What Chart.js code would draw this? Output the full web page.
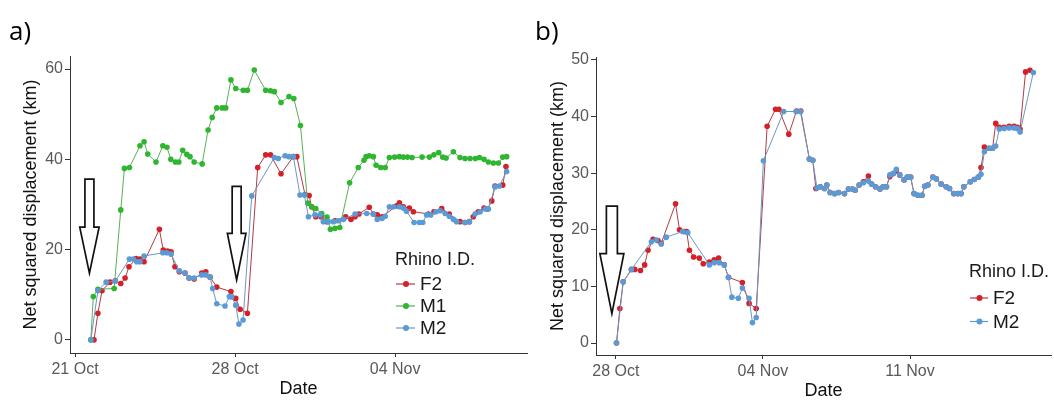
<!DOCTYPE html>
<html>
<head>
<title>Rhino net squared displacement</title>
<script src="https://cdn.jsdelivr.net/npm/chart.js"></script>
<style>
  body { margin: 0; background: #fff; }
  #wrap { position: relative; width: 1054px; height: 400px; }
  canvas { position: absolute; top: 0; }
  #chartA { left: 0; }
  #chartB { left: 530px; }
</style>
</head>
<body>
<div id="wrap">
  <canvas id="chartA" width="530" height="400"></canvas>
  <canvas id="chartB" width="524" height="400"></canvas>
</div>
<script>
// panel a: days since 21 Oct, net squared displacement in km
const aF2Day = [0.83, 1.0, 1.18, 1.53, 1.76, 2.0, 2.19, 2.36, 2.67, 2.84, 3.02, 3.69, 3.86, 4.05, 4.2, 4.37, 4.56, 4.81, 4.99, 5.21, 5.54, 5.72, 5.91, 6.2, 6.82, 7.03, 7.22, 7.54, 7.99, 8.34, 8.55, 9.01, 9.55, 9.7, 10.06, 10.24, 10.35, 10.53, 10.76, 11.02, 11.37, 11.84, 12.07, 12.25, 12.42, 12.87, 13.05, 13.22, 13.43, 14.07, 14.19, 14.36, 14.62, 14.8, 15.46, 15.7, 16.04, 16.37, 16.84, 17.06, 17.25, 17.42, 17.64, 17.89, 18.04, 18.23, 18.37, 18.71, 18.85];
const aF2Km = [0, 5.9, 10.9, 12.8, 13.1, 12.5, 13.7, 16.2, 18.0, 17.9, 17.3, 24.5, 19.9, 19.7, 19.5, 16.2, 15.1, 14.8, 13.7, 13.5, 14.8, 15.1, 13.9, 11.7, 10.7, 9.2, 6.8, 5.9, 38.2, 41.0, 41.0, 36.8, 40.6, 40.6, 32.2, 32.0, 29.5, 27.3, 27.3, 26.2, 26.4, 27.3, 26.7, 27.3, 27.9, 29.4, 27.9, 27.7, 27.3, 29.7, 30.4, 29.5, 29.2, 28.4, 27.9, 28.4, 29.1, 27.9, 26.2, 26.0, 26.2, 27.3, 28.4, 29.2, 29.0, 30.8, 34.1, 34.3, 38.4];

const aM1Day = [0.69, 0.80, 1.0, 1.71, 2.0, 2.16, 2.38, 2.84, 3.02, 3.18, 3.54, 3.84, 4.02, 4.19, 4.39, 4.54, 4.71, 4.89, 5.03, 5.21, 5.56, 5.82, 6.0, 6.2, 6.44, 6.59, 6.82, 7.03, 7.36, 7.54, 7.84, 8.34, 8.55, 8.72, 9.01, 9.36, 9.57, 9.86, 10.18, 10.35, 10.53, 10.79, 11.02, 11.17, 11.37, 11.58, 12.01, 12.39, 12.64, 12.73, 12.87, 13.05, 13.17, 13.37, 13.57, 13.75, 13.98, 14.19, 14.36, 14.54, 14.74, 15.18, 15.5, 15.7, 15.91, 16.08, 16.23, 16.55, 16.84, 17.06, 17.28, 17.51, 17.69, 17.89, 18.08, 18.3, 18.52, 18.71, 18.88];
const aM1Km = [0, 9.6, 11.2, 11.4, 28.8, 38.0, 38.2, 43.0, 43.9, 41.2, 39.4, 43.0, 42.7, 40.0, 39.4, 39.4, 42.0, 41.1, 40.6, 39.4, 39.0, 46.5, 49.3, 51.4, 51.4, 51.4, 57.6, 55.7, 55.3, 55.3, 59.8, 55.3, 55.2, 55.0, 52.6, 53.9, 53.5, 47.5, 30.3, 29.5, 29.1, 28.0, 27.2, 24.5, 24.7, 24.9, 34.8, 38.2, 39.8, 40.6, 40.8, 40.6, 38.7, 38.2, 38.2, 40.4, 40.5, 40.6, 40.5, 40.5, 40.4, 40.5, 40.5, 41.0, 41.5, 40.5, 40.3, 41.7, 40.4, 40.2, 40.2, 40.2, 40.4, 40.0, 39.4, 39.2, 39.2, 40.5, 40.6];

const aM2Day = [0.69, 1.0, 1.36, 1.76, 2.38, 2.55, 2.7, 2.84, 3.02, 3.84, 4.01, 4.2, 4.56, 4.81, 4.99, 5.21, 5.54, 5.72, 5.91, 6.02, 6.2, 6.56, 6.75, 6.85, 7.03, 7.17, 7.35, 7.73, 8.72, 8.89, 9.19, 9.36, 9.55, 9.84, 10.03, 10.21, 10.5, 10.72, 10.86, 11.08, 11.3, 11.52, 11.74, 12.25, 12.76, 13.05, 13.22, 13.43, 13.57, 13.75, 13.93, 14.19, 14.36, 14.5, 14.83, 15.06, 15.21, 15.38, 15.56, 15.79, 15.97, 16.19, 16.37, 16.55, 16.69, 17.06, 17.25, 17.5, 17.72, 17.94, 18.08, 18.37, 18.56, 18.88];
const aM2Km = [0, 10.9, 12.8, 13.0, 17.9, 17.9, 17.3, 17.3, 18.6, 19.3, 19.3, 19.0, 15.3, 14.8, 13.7, 13.7, 14.4, 14.4, 13.9, 11.4, 8.0, 7.5, 9.6, 9.5, 7.7, 3.5, 4.4, 31.9, 40.4, 40.2, 40.8, 40.6, 40.6, 32.1, 32.1, 27.3, 27.7, 27.7, 26.2, 26.2, 26.2, 26.4, 26.7, 27.9, 28.0, 27.9, 26.7, 26.9, 27.4, 29.5, 29.5, 29.5, 29.2, 28.5, 26.0, 26.0, 26.0, 27.7, 27.7, 28.4, 28.6, 28.0, 27.4, 26.7, 26.2, 26.0, 26.2, 27.9, 28.4, 29.0, 29.0, 33.9, 34.1, 37.3];

// panel b: days since 28 Oct
const bF2Day = [0.03, 0.19, 0.35, 0.74, 0.9, 1.17, 1.37, 1.53, 1.77, 2.0, 2.16, 2.84, 3.03, 3.26, 3.37, 3.5, 3.7, 3.97, 4.16, 4.45, 4.68, 4.89, 5.16, 5.36, 6.02, 6.34, 6.68, 7.2, 7.6, 7.76, 8.23, 8.6, 8.8, 9.21, 9.37, 9.52, 9.73, 9.93, 10.04, 10.2, 10.41, 10.6, 10.88, 11.07, 11.26, 11.39, 11.58, 11.78, 12.02, 12.17, 12.36, 12.57, 12.72, 12.88, 13.04, 13.2, 13.35, 13.51, 13.72, 13.87, 14.03, 14.19, 14.38, 14.57, 14.7, 14.85, 15.09, 15.25, 15.48, 15.72, 15.88, 16.08, 16.27, 16.43, 16.56, 16.87, 17.06, 17.25, 17.38, 17.54, 17.77, 17.93, 18.08, 18.25, 18.48, 18.72, 18.95, 19.11, 19.24, 19.5, 19.71];
const bF2Km = [0, 6.1, 10.8, 13.0, 13.0, 12.8, 13.8, 16.4, 18.3, 18.1, 17.6, 24.6, 20.0, 19.7, 19.7, 16.4, 15.2, 15.0, 14.0, 14.3, 14.7, 15.0, 13.8, 11.6, 10.7, 7.0, 6.1, 38.3, 41.3, 41.3, 36.9, 41.0, 41.0, 32.5, 32.3, 27.3, 27.6, 27.3, 27.9, 26.6, 26.4, 26.6, 26.4, 27.2, 27.2, 27.0, 27.9, 28.5, 29.5, 28.1, 27.6, 27.2, 27.6, 27.6, 29.4, 29.9, 30.4, 29.7, 28.8, 29.3, 29.3, 26.4, 26.1, 26.1, 27.7, 27.9, 29.3, 29.0, 28.1, 27.6, 27.3, 26.4, 26.4, 26.4, 27.6, 28.5, 28.9, 29.3, 31.0, 34.6, 34.4, 34.4, 38.8, 38.1, 38.1, 38.3, 38.3, 38.1, 37.8, 47.9, 48.2];

const bM2Day = [0.03, 0.35, 0.74, 1.69, 1.92, 2.16, 2.4, 3.18, 3.42, 4.45, 4.68, 4.92, 5.16, 5.36, 5.52, 5.83, 6.02, 6.34, 6.5, 6.68, 7.02, 7.99, 8.58, 8.78, 9.21, 9.37, 9.57, 9.73, 9.93, 10.04, 10.2, 10.41, 10.6, 10.88, 11.07, 11.26, 11.39, 11.58, 11.78, 12.02, 12.17, 12.36, 12.57, 12.72, 12.88, 13.04, 13.2, 13.35, 13.51, 13.72, 13.87, 14.03, 14.19, 14.38, 14.57, 14.7, 14.85, 15.09, 15.25, 15.48, 15.72, 15.88, 16.08, 16.27, 16.43, 16.56, 16.87, 17.06, 17.25, 17.38, 17.54, 17.77, 17.93, 18.08, 18.25, 18.48, 18.72, 18.95, 19.11, 19.24, 19.87];
const bM2Km = [0, 10.8, 13.0, 17.9, 18.2, 17.5, 18.7, 19.7, 19.5, 13.8, 14.2, 14.2, 13.8, 11.6, 8.1, 7.9, 9.7, 7.9, 3.6, 4.5, 32.2, 40.9, 40.9, 40.9, 32.5, 32.3, 27.4, 27.6, 27.3, 27.9, 26.6, 26.4, 26.6, 26.4, 27.2, 27.2, 27.0, 27.9, 28.3, 28.6, 28.1, 27.6, 27.2, 27.6, 27.6, 29.7, 30.0, 30.7, 29.7, 28.8, 29.3, 29.3, 26.4, 26.1, 26.1, 27.7, 27.9, 29.3, 29.0, 28.1, 27.6, 27.3, 26.4, 26.4, 26.4, 27.6, 28.5, 28.9, 29.3, 29.8, 33.8, 34.4, 34.4, 34.8, 37.8, 37.9, 38.0, 38.0, 37.9, 37.3, 47.8];

// axis ticks
const aDateTicks = [0, 7, 14];
const aDateLabels = ['21 Oct', '28 Oct', '04 Nov'];
const aKmTicks = [0, 20, 40, 60];
const bDateTicks = [0, 7, 14];
const bDateLabels = ['28 Oct', '04 Nov', '11 Nov'];
const bKmTicks = [0, 10, 20, 30, 40, 50];

const FONT = "'Liberation Sans', Arial, sans-serif";
const colours = {
    F2: { point: '#d42028', line: '#b23a46' },
    M1: { point: '#2fb52f', line: '#5aae5a' },
    M2: { point: '#5b9bd5', line: '#6d96bf' }
};

function toPoints(days, km) {
    return days.map((d, i) => ({ x: d, y: km[i] }));
}

function series(name, days, km, order) {
    return {
        label: name,
        data: toPoints(days, km),
        borderColor: colours[name].line,
        backgroundColor: colours[name].point,
        pointBackgroundColor: colours[name].point,
        pointBorderWidth: 0,
        pointRadius: 2.8,
        pointHoverRadius: 2.8,
        borderWidth: 1,
        tension: 0,
        order: order
    };
}

// outlined down arrows, placed through the chart scales
const arrowPlugin = {
    id: 'arrows',
    afterDatasetsDraw(chart, args, opts) {
        const ctx = chart.ctx;
        const x = chart.scales.x, y = chart.scales.y;
        ctx.save();
        ctx.lineWidth = 1.7;
        ctx.strokeStyle = '#111';
        ctx.fillStyle = '#fff';
        ctx.lineJoin = 'miter';
        for (const a of opts.items) {
            const cx = x.getPixelForValue(a.day);
            const top = y.getPixelForValue(a.top);
            const neck = y.getPixelForValue(a.neck);
            const tip = y.getPixelForValue(a.tip);
            ctx.beginPath();
            ctx.moveTo(cx - a.shaft, top);
            ctx.lineTo(cx + a.shaft, top);
            ctx.lineTo(cx + a.shaft, neck);
            ctx.lineTo(cx + a.head, neck);
            ctx.lineTo(cx, tip);
            ctx.lineTo(cx - a.head, neck);
            ctx.lineTo(cx - a.shaft, neck);
            ctx.closePath();
            ctx.fill();
            ctx.stroke();
        }
        ctx.restore();
    }
};

// ggplot-like legend inside the panel + panel letter
const keyPlugin = {
    id: 'keyBox',
    afterDraw(chart, args, opts) {
        const ctx = chart.ctx;
        ctx.save();
        ctx.textBaseline = 'middle';
        ctx.textAlign = 'left';
        ctx.fillStyle = '#1a1a1a';
        ctx.font = '18px ' + FONT;
        ctx.fillText('Rhino I.D.', opts.x, opts.y);
        chart.data.datasets.forEach((ds, i) => {
            const ry = opts.y + opts.first + i * opts.step;
            ctx.strokeStyle = ds.borderColor;
            ctx.lineWidth = 1.2;
            ctx.beginPath();
            ctx.moveTo(opts.x + 1, ry);
            ctx.lineTo(opts.x + opts.keyW, ry);
            ctx.stroke();
            ctx.fillStyle = ds.pointBackgroundColor;
            ctx.beginPath();
            ctx.arc(opts.x + 1 + opts.keyW / 2, ry, 3, 0, Math.PI * 2);
            ctx.fill();
            ctx.fillStyle = '#1a1a1a';
            ctx.font = '19px ' + FONT;
            ctx.fillText(ds.label, opts.x + opts.keyW + 5, ry + 1);
        });
        ctx.font = "26px 'Open Sans', sans-serif";
        ctx.fillStyle = '#000';
        ctx.textBaseline = 'alphabetic';
        ctx.fillText(opts.letter, opts.letterX, 40);
        ctx.restore();
    }
};

function makeChart(id, p) {
    return new Chart(document.getElementById(id), {
        type: 'line',
        data: { datasets: p.datasets },
        plugins: [arrowPlugin, keyPlugin],
        options: {
            responsive: false,
            animation: false,
            events: [],
            layout: { padding: { top: p.top, right: p.right, left: 0, bottom: 0 } },
            plugins: {
                legend: { display: false },
                tooltip: { enabled: false },
                arrows: { items: p.arrows },
                keyBox: p.key
            },
            scales: {
                x: {
                    type: 'linear',
                    min: p.xMin,
                    max: p.xMax,
                    afterBuildTicks: s => { s.ticks = p.xTicks.map(v => ({ value: v })); },
                    afterFit: s => { s.height = p.xHeight; },
                    ticks: {
                        autoSkip: false,
                        maxRotation: 0,
                        padding: 3,
                        color: '#595959',
                        font: { family: FONT, size: 16 },
                        callback: v => p.xLabels[p.xTicks.indexOf(v)]
                    },
                    grid: { drawOnChartArea: false, drawTicks: true, tickLength: 4, color: '#333' },
                    border: { display: true, color: '#333', width: 1 },
                    title: {
                        display: true, text: 'Date', color: '#111',
                        font: { family: FONT, size: 18 },
                        padding: { top: 0, bottom: p.dateShift }
                    }
                },
                y: {
                    type: 'linear',
                    min: p.yMin,
                    max: p.yMax,
                    afterBuildTicks: s => { s.ticks = p.yTicks.map(v => ({ value: v })); },
                    afterFit: s => { s.width = p.yWidth; },
                    ticks: {
                        padding: 2,
                        color: '#595959',
                        font: { family: FONT, size: 16 },
                        callback: v => String(v)
                    },
                    grid: { drawOnChartArea: false, drawTicks: true, tickLength: 5, color: '#333' },
                    border: { display: true, color: '#333', width: 1 },
                    title: {
                        display: true, text: 'Net squared displacement (km)', color: '#111',
                        font: { family: FONT, size: 18 },
                        padding: { top: p.yTitlePad, bottom: 0 }
                    }
                }
            }
        }
    });
}

makeChart('chartA', {
    datasets: [
        series('F2', aF2Day, aF2Km, 2),
        series('M1', aM1Day, aM1Km, 1),
        series('M2', aM2Day, aM2Km, 0)
    ],
    top: 56, right: 3,
    xMin: -0.22, xMax: 19.77, xTicks: aDateTicks, xLabels: aDateLabels, xHeight: 47,
    yMin: -2.9, yMax: 62.9, yTicks: aKmTicks, yWidth: 70, yTitlePad: 20,
    dateShift: 0,
    arrows: [
        { day: 0.63, top: 35.6, neck: 25.0, tip: 14.8, shaft: 4.5, head: 9.7 },
        { day: 7.07, top: 34.0, neck: 23.6, tip: 13.3, shaft: 4.5, head: 9.3 }
    ],
    key: { x: 395, y: 260, first: 24, step: 22, keyW: 20, letter: 'a)', letterX: 9 }
});

makeChart('chartB', {
    datasets: [
        series('F2', bF2Day, bF2Km, 1),
        series('M2', bM2Day, bM2Km, 0)
    ],
    top: 57, right: 0,
    xMin: -0.946, xMax: 20.72, xTicks: bDateTicks, xLabels: bDateLabels, xHeight: 45,
    yMin: -2.12, yMax: 50.53, yTicks: bKmTicks, yWidth: 66, yTitlePad: 17,
    dateShift: -2,
    arrows: [
        { day: -0.19, top: 24.2, neck: 15.8, tip: 5.2, shaft: 5.5, head: 12 }
    ],
    key: { x: 439, y: 272, first: 26, step: 23.5, keyW: 19, letter: 'b)', letterX: 5 }
});
</script>
</body>
</html>
